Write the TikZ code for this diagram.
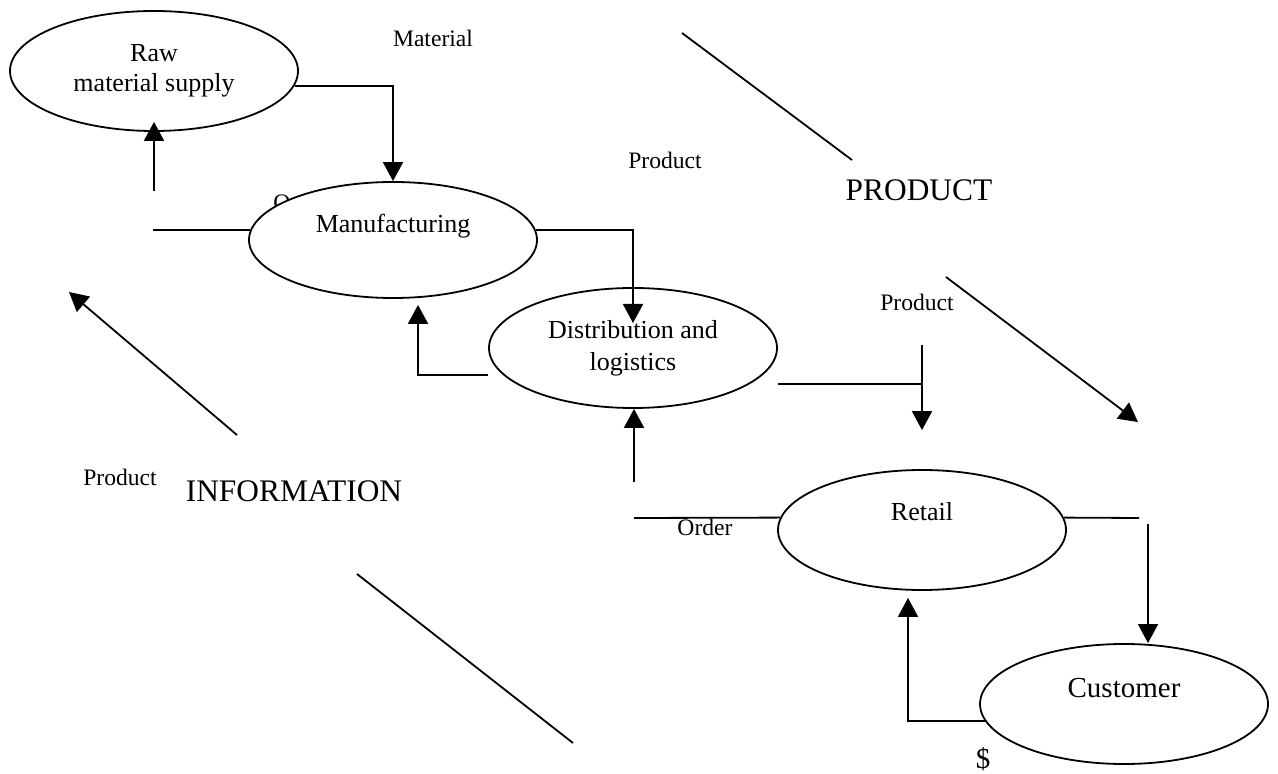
\documentclass[tikz,border=0pt]{standalone}
\usepackage{fontspec}
\setmainfont{Liberation Serif}
\usetikzlibrary{arrows.meta,shapes.geometric}
\begin{document}
\begin{tikzpicture}[x=0.5pt,y=-0.5pt,
  proc/.style={ellipse,draw,line width=0.9pt,fill=white,
    minimum width=144pt,minimum height=60pt,inner sep=0pt,align=center,
    font=\fontsize{13}{15}\selectfont},
  flow/.style={line width=0.9pt},
  arr/.style={flow,-{Triangle[length=9.5pt,width=10pt]}},
  small/.style={font=\fontsize{11.8}{14}\selectfont},
  mid/.style={font=\fontsize{13}{15}\selectfont},
  big/.style={font=\fontsize{15.7}{18}\selectfont},
  large/.style={font=\fontsize{14.5}{17}\selectfont}]
\useasboundingbox (0,0) rectangle (1278,774);

% label partly hidden behind the manufacturing stage
\node[small] (o) at (282,203) {O};

% supply chain stages
\node[proc] (raw) at (154,71) {Raw\\material supply};
\node[proc,minimum height=58pt,
  label={[mid,name=mfgtext,yshift=7pt]center:Manufacturing}] (mfg) at (393,240) {};
\node[proc,font=\fontsize{13}{16}\selectfont] (dist) at (633,348) {Distribution and\\logistics};
\node[proc,label={[mid,name=rettext,yshift=9pt]center:Retail}] (retail) at (922,530) {};
\node[proc,label={[large,name=custtext,yshift=8pt]center:Customer}] (cust) at (1124,704) {};

% material / product flow downwards
\draw[arr] (raw.-6) -| (mfg.north);
\draw[arr] (mfg.4) -| ([yshift=12.5pt]dist.center);
\coordinate (dR) at ([yshift=-18pt]dist.east);
\coordinate (prodR) at (922,345);
\draw[flow] (dR) -- (dR -| prodR);
\draw[arr] (prodR) -- ([yshift=19.5pt]retail.north);
\coordinate (rcA) at (1139,518);
\draw[flow] (retail.5) -- (rcA);
\coordinate (rcB) at (1148,524);
\draw[arr] (rcB) -- ([xshift=12pt]cust.north);

% order / information flow upwards
\draw[arr] (cust.187) -| ([xshift=-7pt,yshift=-3.5pt]retail.south);
\coordinate (ordA) at (634,518);
\draw[flow] (ordA) -- (retail.175);
\coordinate (ordB) at (634,482);
\draw[arr] (ordB) -- (ordB |- dist.south);
\draw[arr] ([yshift=-13.5pt]dist.west) -| ([xshift=12.5pt,yshift=-3pt]mfg.south);
\coordinate (infoA) at (153,230);
\draw[flow] (infoA) -- (mfg.176);
\coordinate (infoB) at (154,191);
\draw[arr] (infoB) -- ([yshift=5pt]raw.south);

% direction strokes
\coordinate (pA) at (682,33);
\coordinate (pB) at (852,160);
\draw[flow] (pA) -- (pB);
\coordinate (pC) at (946,277);
\coordinate (pD) at (1138,422);
\draw[arr] (pC) -- (pD);
\coordinate (iA) at (237,435);
\coordinate (iB) at (69,292);
\draw[arr] (iA) -- (iB);
\coordinate (iC) at (357,574);
\coordinate (iD) at (573,743);
\draw[flow] (iC) -- (iD);

% labels
\node[small] (lmat) at (433,38) {Material};
\node[small] (lprod1) at (665,160) {Product};
\node[big] (lPROD) at (919,190) {PRODUCT};
\node[small] (lprod2) at (917,302) {Product};
\node[small] (lprod3) at (120,477) {Product};
\node[big] (linfo) at (294,491) {INFORMATION};
\node[small] (lorder) at (705,527) {Order};
\node[large] (ldollar) at (983,759) {\$};
\end{tikzpicture}
\end{document}
